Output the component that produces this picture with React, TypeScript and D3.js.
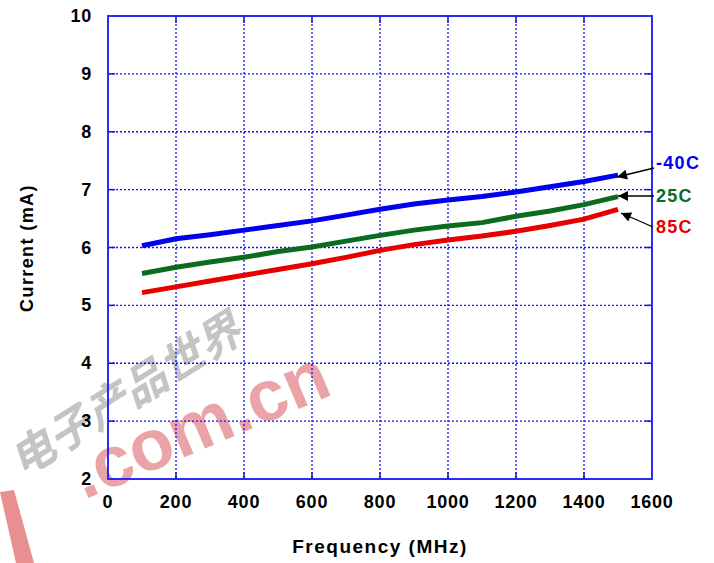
import React from 'react';
import * as d3 from 'd3';

const width = 714;
const height = 563;
const margin = { left: 108, top: 16, right: 62, bottom: 84 };

const freqs = [100, 200, 300, 400, 500, 600, 700, 800, 900, 1000, 1100, 1200, 1300, 1400, 1500];
const minus40 = [6.03, 6.15, 6.22, 6.3, 6.38, 6.46, 6.56, 6.66, 6.75, 6.82, 6.88, 6.96, 7.05, 7.14, 7.25];
const plus25 = [5.55, 5.66, 5.75, 5.83, 5.93, 6.01, 6.11, 6.21, 6.3, 6.37, 6.43, 6.54, 6.63, 6.74, 6.88];
const plus85 = [5.22, 5.32, 5.42, 5.52, 5.62, 5.72, 5.83, 5.95, 6.05, 6.13, 6.2, 6.28, 6.38, 6.49, 6.66];

const xTicks = [0, 200, 400, 600, 800, 1000, 1200, 1400, 1600];
const yTicks = [2, 3, 4, 5, 6, 7, 8, 9, 10];

const series = [
  { name: '-40C', values: minus40, color: '#0000f0', labelY: 169, from: [654, 168], to: [617, 177] },
  { name: '25C', values: plus25, color: '#0b6b1f', labelY: 202, from: [654, 196], to: [618, 196] },
  { name: '85C', values: plus85, color: '#e80000', labelY: 233, from: [653, 227], to: [621, 213] },
];

const font = '"Liberation Sans", Arial, sans-serif';

export default function App() {
  const innerW = width - margin.left - margin.right;
  const innerH = height - margin.top - margin.bottom;
  const x = d3.scaleLinear().domain([0, 1600]).range([margin.left, margin.left + innerW]);
  const y = d3.scaleLinear().domain([2, 10]).range([margin.top + innerH, margin.top]);

  const line = d3
    .line<number>()
    .x((_, i) => x(freqs[i]))
    .y(d => y(d));

  const x0 = x(0), x1 = x(1600), y0 = y(2), y1 = y(10);
  const tick = 7;

  return (
    <svg
      width={width}
      height={height}
      style={{ position: 'absolute', left: 0, top: 0, background: '#fff' }}
      fontFamily={font}
    >
      <defs>
        <marker id="ah" viewBox="0 0 10 10" refX="10" refY="5" markerWidth="14" markerHeight="10"
          markerUnits="userSpaceOnUse" orient="auto">
          <path d="M0,0 L10,5 L0,10 Z" fill="#000" />
        </marker>
      </defs>

      {/* watermark */}
      <g>
        <path d="M0,492 L14,490 L34,563 L16,563 Z" fill="#e89090" />
        <text transform="translate(22,478) rotate(-32)" fontSize={44} fontWeight="bold"
          fill="#c4c4c4" fontStyle="italic" fontFamily='"Noto Sans CJK SC"'>电子产品世界</text>
        <text transform="translate(84,500) rotate(-23)" fontSize={72} fontWeight="bold"
          fill="#eaa4a8" fontFamily={font}>.com.cn</text>
      </g>

      {/* grid */}
      <g stroke="#1010f0" strokeWidth={1.3} strokeDasharray="2,2">
        {xTicks.slice(1, -1).map(t => (
          <line key={'gx' + t} x1={x(t)} x2={x(t)} y1={y1} y2={y0} />
        ))}
        {yTicks.slice(1, -1).map(t => (
          <line key={'gy' + t} x1={x0} x2={x1} y1={y(t)} y2={y(t)} />
        ))}
      </g>

      {/* inner ticks */}
      <g stroke="#1010f0" strokeWidth={1.5}>
        {xTicks.slice(1, -1).map(t => (
          <g key={'tx' + t}>
            <line x1={x(t)} x2={x(t)} y1={y0} y2={y0 - tick} />
            <line x1={x(t)} x2={x(t)} y1={y1} y2={y1 + tick} />
          </g>
        ))}
        {yTicks.slice(1, -1).map(t => (
          <g key={'ty' + t}>
            <line x1={x0} x2={x0 + tick} y1={y(t)} y2={y(t)} />
            <line x1={x1} x2={x1 - tick} y1={y(t)} y2={y(t)} />
          </g>
        ))}
      </g>

      <rect x={x0} y={y1} width={x1 - x0} height={y0 - y1} fill="none" stroke="#2a2af5" strokeWidth={2} />

      {/* data */}
      {series.map(s => (
        <path key={s.name} d={line(s.values) || ''} fill="none" stroke={s.color} strokeWidth={5} />
      ))}

      {/* labels with arrows */}
      {series.map(s => (
        <g key={'l' + s.name}>
          <line x1={s.from[0]} y1={s.from[1]} x2={s.to[0]} y2={s.to[1]} stroke="#000" strokeWidth={1.3}
            markerEnd="url(#ah)" />
          <text x={656} y={s.labelY} fill={s.color} fontSize={18} fontWeight="bold" letterSpacing={1.3}>
            {s.name}
          </text>
        </g>
      ))}

      {/* axis labels */}
      <g fontSize={18} fontWeight="bold" fill="#000" letterSpacing={0.8}>
        {yTicks.map(t => (
          <text key={'yl' + t} x={92} y={y(t)} textAnchor="end" dominantBaseline="central">{t}</text>
        ))}
        {xTicks.map(t => (
          <text key={'xl' + t} x={x(t)} y={508} textAnchor="middle">{t}</text>
        ))}
      </g>
      <text x={380} y={553} textAnchor="middle" fontSize={19} fontWeight="bold" letterSpacing={1.5}>
        Frequency (MHz)
      </text>
      <text transform="translate(33,248) rotate(-90)" textAnchor="middle" fontSize={18} fontWeight="bold"
        letterSpacing={1.4}>
        Current (mA)
      </text>
    </svg>
  );
}
